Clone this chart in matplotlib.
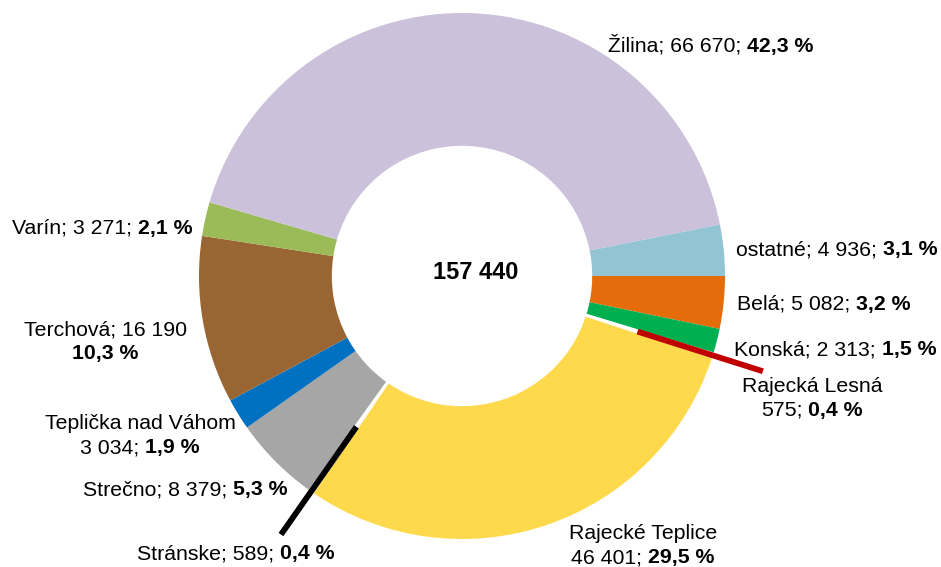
import numpy as np
import matplotlib
matplotlib.use("Agg")
import matplotlib.pyplot as plt
from matplotlib.transforms import offset_copy

plt.rcParams['font.family'] = ['Liberation Sans', 'DejaVu Sans']

# data (clockwise from 3 o'clock)
names = ['Belá', 'Konská', 'Rajecká Lesná', 'Rajecké Teplice', 'Stránske', 'Strečno',
         'Teplička nad Váhom', 'Terchová', 'Varín', 'Žilina', 'ostatné']
values = [5082, 2313, 575, 46401, 589, 8379, 3034, 16190, 3271, 66670, 4936]
colors = ['#E46C0A', '#00B050', '#C00000', '#FFD94C', '#000000', '#A6A6A6',
          '#0070C0', '#996633', '#9BBB59', '#CCC1DA', '#93C4D4']

# label layout: 0 = one line, 1 = break before percent, 2 = break after name
wrap = [0, 0, 2, 2, 0, 0, 2, 1, 0, 0, 0]
label_px = [(824, 303), (835, 348), (812, 397), (643, 544), (236, 552), (185, 488),
            (140, 434), (105, 340), (102, 227), (711, 45), (837, 248)]
leader = [False, False, True, False, True, False, False, False, False, False, False]

W, H = 941, 567
CX, CY, R = 462, 276, 263
FS = 15.3


def to_data(px, py):
    return (px - CX) / R, (CY - py) / R


def fmt_num(v):
    return f'{v:,}'.replace(',', ' ')


total = sum(values)

fig = plt.figure(figsize=(W / 100, H / 100), dpi=100)
ax = fig.add_axes([0, 0, 1, 1])

face = ['white' if lead else c for c, lead in zip(colors, leader)]
wedges, _ = ax.pie(values, colors=face, startangle=0, counterclock=False,
                   radius=1.0, wedgeprops=dict(width=0.505, linewidth=0))

# thick leader lines for the tiny slices
for w, c, lead in zip(wedges, colors, leader):
    if not lead:
        continue
    mid = np.deg2rad((w.theta1 + w.theta2) / 2)
    ax.plot([0.70 * np.cos(mid), 1.20 * np.cos(mid)],
            [0.70 * np.sin(mid), 1.20 * np.sin(mid)],
            color=c, lw=4.2, solid_capstyle='butt')

ax.set_xlim(-CX / R, (W - CX) / R)
ax.set_ylim(-(H - CY) / R, CY / R)
ax.set_aspect('equal')
ax.axis('off')

cx, cy = to_data(476, 279)
ax.text(cx, cy, fmt_num(total), fontsize=17, fontweight='bold',
        ha='center', va='baseline')

fig.canvas.draw()
renderer = fig.canvas.get_renderer()


def width_of(s, bold=False):
    if not s:
        return 0.0
    t = ax.text(0, 0, s, fontsize=FS, fontweight='bold' if bold else 'normal')
    w = t.get_window_extent(renderer).width
    t.remove()
    return w


space_w = width_of('x x') - width_of('xx')


def put_line(px, py, normal, bold):
    x, y = to_data(px, py + 7)
    w1 = width_of(normal)
    w2 = width_of(bold, True)
    gap = space_w if (normal and bold) else 0.0
    full = w1 + gap + w2
    if normal:
        ax.text(x, y, normal, fontsize=FS, ha='left', va='baseline',
                transform=offset_copy(ax.transData, fig=fig, x=-full / 2, y=0, units='dots'))
    if bold:
        ax.text(x, y, bold, fontsize=FS, fontweight='bold', ha='left', va='baseline',
                transform=offset_copy(ax.transData, fig=fig, x=-full / 2 + w1 + gap, y=0,
                                      units='dots'))


for name, v, mode, (px, py) in zip(names, values, wrap, label_px):
    pct = f'{100 * v / total:.1f} %'.replace('.', ',')
    num = fmt_num(v)
    if mode == 0:
        lines = [(f'{name}; {num};', pct)]
    elif mode == 1:
        lines = [(f'{name}; {num}', ''), ('', pct)]
    else:
        lines = [(name, ''), (f'{num};', pct)]
    step = 24
    y0 = py - step * (len(lines) - 1) / 2
    for i, (a, b) in enumerate(lines):
        put_line(px, y0 + i * step, a, b)

fig.savefig('out.png', dpi=100)
